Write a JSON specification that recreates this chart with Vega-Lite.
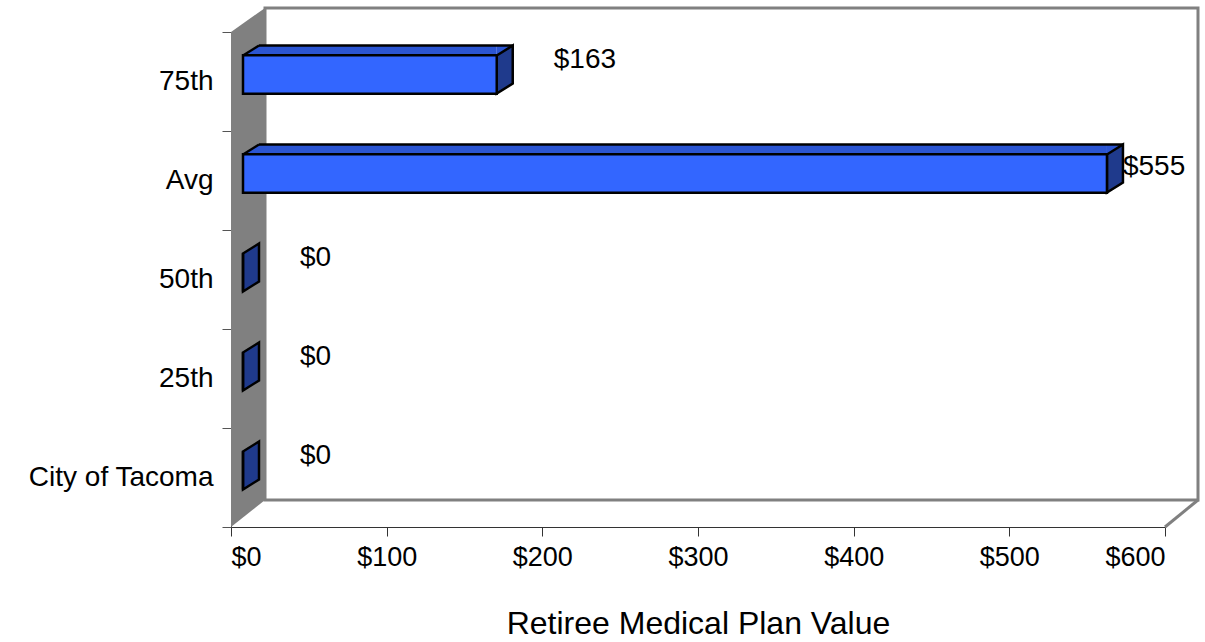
{
  "$schema": "https://vega.github.io/schema/vega-lite/v6.json",
  "width": 934,
  "height": 495,
  "autosize": {"type": "none"},
  "padding": {"left": 231, "top": 32, "right": 40, "bottom": 115},
  "background": "white",
  "config": {
    "view": {"stroke": null},
    "font": "Liberation Sans",
    "axis": {"grid": false, "zindex": 1, "labelColor": "black", "titleColor": "black", "titleFontWeight": "normal", "domainColor": "#333333"},
    "axisX": {
      "labelExpr": "'$' + datum.value",
      "tickSize": 9,
      "tickColor": "#333333",
      "labelFontSize": 27,
      "labelPadding": 8,
      "titleFontSize": 32,
      "titlePadding": 38
    },
    "axisY": {
      "tickBand": "extent",
      "tickSize": 9,
      "tickColor": "#555555",
      "labelFontSize": 28,
      "labelPadding": 9,
      "labelLimit": 400
    }
  },
  "data": {
    "values": [
      {"label": "75th", "value": 163},
      {"label": "Avg", "value": 555},
      {"label": "50th", "value": 0},
      {"label": "25th", "value": 0},
      {"label": "City of Tacoma", "value": 0}
    ]
  },
  "layer": [
    {
      "transform": [{"filter": "datum.label == 'Avg'"}],
      "mark": {"type": "point", "shape": "M34,-271.5L967,-271.5L967,220.5L34,220.5Z", "size": 4, "filled": true, "fill": "white", "stroke": "#808080", "strokeWidth": 3, "opacity": 1},
      "encoding": {
        "x": {"datum": 0, "type": "quantitative"},
        "y": {"datum": "50th", "type": "nominal"}
      }
    },
    {
      "transform": [{"filter": "datum.label == 'Avg'"}],
      "mark": {"type": "point", "shape": "M0,-247.5L34,-271.5L34,220.5L0,247.5Z", "size": 4, "filled": true, "fill": "#808080", "opacity": 1, "strokeWidth": 0},
      "encoding": {
        "x": {"datum": 0, "type": "quantitative"},
        "y": {"datum": "50th", "type": "nominal"}
      }
    },
    {
      "transform": [{"filter": "datum.label == 'Avg'"}],
      "mark": {"type": "point", "shape": "M0,49.5L33,22.5", "size": 4, "filled": false, "stroke": "#808080", "strokeWidth": 3, "opacity": 1},
      "encoding": {
        "x": {"datum": 600, "type": "quantitative"},
        "y": {"datum": "City of Tacoma", "type": "nominal"}
      }
    },
    {
      "transform": [{"filter": "datum.value > 0"}],
      "mark": {"type": "bar", "fill": "#2B55D2", "strokeWidth": 0, "height": 10, "xOffset": 12, "x2Offset": 28, "yOffset": -31},
      "encoding": {
        "x": {"field": "value", "type": "quantitative"},
        "x2": {"datum": 0},
        "y": {"field": "label", "type": "nominal"}
      }
    },
    {
      "transform": [{"filter": "datum.value > 0"}],
      "mark": {"type": "point", "shape": "M0,0L16,-10L16,0Z", "size": 4, "filled": true, "fill": "#2B55D2", "strokeWidth": 0, "opacity": 1, "xOffset": 12, "yOffset": -26},
      "encoding": {
        "x": {"datum": 0, "type": "quantitative"},
        "y": {"field": "label", "type": "nominal"}
      }
    },
    {
      "transform": [{"filter": "datum.value > 0"}],
      "mark": {"type": "point", "shape": "M0,0L16,-10L0,-10Z", "size": 4, "filled": true, "fill": "#2B55D2", "strokeWidth": 0, "opacity": 1, "xOffset": 12, "yOffset": -26},
      "encoding": {
        "x": {"field": "value", "type": "quantitative"},
        "y": {"field": "label", "type": "nominal"}
      }
    },
    {
      "mark": {"type": "point", "shape": "M0,-19L16,-29L16,9L0,19Z", "size": 4, "filled": true, "fill": "#1F3A8C", "stroke": "black", "strokeWidth": 2.5, "strokeJoin": "miter", "opacity": 1, "xOffset": 12, "yOffset": -7},
      "encoding": {
        "x": {"field": "value", "type": "quantitative"},
        "y": {"field": "label", "type": "nominal"}
      }
    },
    {
      "mark": {"type": "bar", "fill": "#3366FF", "stroke": "black", "strokeWidth": 2.5, "height": {"band": 0.39}, "xOffset": 12, "x2Offset": 12, "yOffset": -7},
      "encoding": {
        "x": {
          "field": "value",
          "type": "quantitative",
          "scale": {"domain": [0, 600], "nice": false},
          "title": "Retiree Medical Plan Value",
          "axis": {"values": [0, 100, 200, 300, 400, 500, 600]}
        },
        "x2": {"datum": 0},
        "y": {
          "field": "label",
          "type": "nominal",
          "sort": ["75th", "Avg", "50th", "25th", "City of Tacoma"],
          "scale": {"domain": ["75th", "Avg", "50th", "25th", "City of Tacoma"], "paddingInner": 0, "paddingOuter": 0},
          "title": null
        }
      }
    },
    {
      "transform": [{"filter": "datum.value > 0"}],
      "mark": {"type": "rule", "stroke": "black", "strokeWidth": 2.5, "xOffset": 28, "x2Offset": 28, "yOffset": -36},
      "encoding": {
        "x": {"field": "value", "type": "quantitative"},
        "x2": {"datum": 0},
        "y": {"field": "label", "type": "nominal"}
      }
    },
    {
      "transform": [{"filter": "datum.value > 0"}],
      "mark": {"type": "point", "shape": "M0,0L16,-10", "size": 4, "filled": false, "stroke": "black", "strokeWidth": 2.5, "opacity": 1, "xOffset": 12, "yOffset": -26},
      "encoding": {
        "x": {"datum": 0, "type": "quantitative"},
        "y": {"field": "label", "type": "nominal"}
      }
    },
    {
      "transform": [{"filter": "datum.value <= 500"}],
      "mark": {"type": "text", "align": "left", "baseline": "middle", "fontSize": 28, "color": "black", "xOffset": 12, "dx": 57, "dy": -22},
      "encoding": {
        "x": {"field": "value", "type": "quantitative"},
        "y": {"field": "label", "type": "nominal"},
        "text": {"field": "value", "type": "quantitative", "format": "$d"}
      }
    },
    {
      "transform": [{"filter": "datum.value > 500"}],
      "mark": {"type": "text", "align": "left", "baseline": "middle", "fontSize": 28, "color": "black", "xOffset": 12, "dx": 16, "dy": -14},
      "encoding": {
        "x": {"field": "value", "type": "quantitative"},
        "y": {"field": "label", "type": "nominal"},
        "text": {"field": "value", "type": "quantitative", "format": "$d"}
      }
    }
  ]
}
